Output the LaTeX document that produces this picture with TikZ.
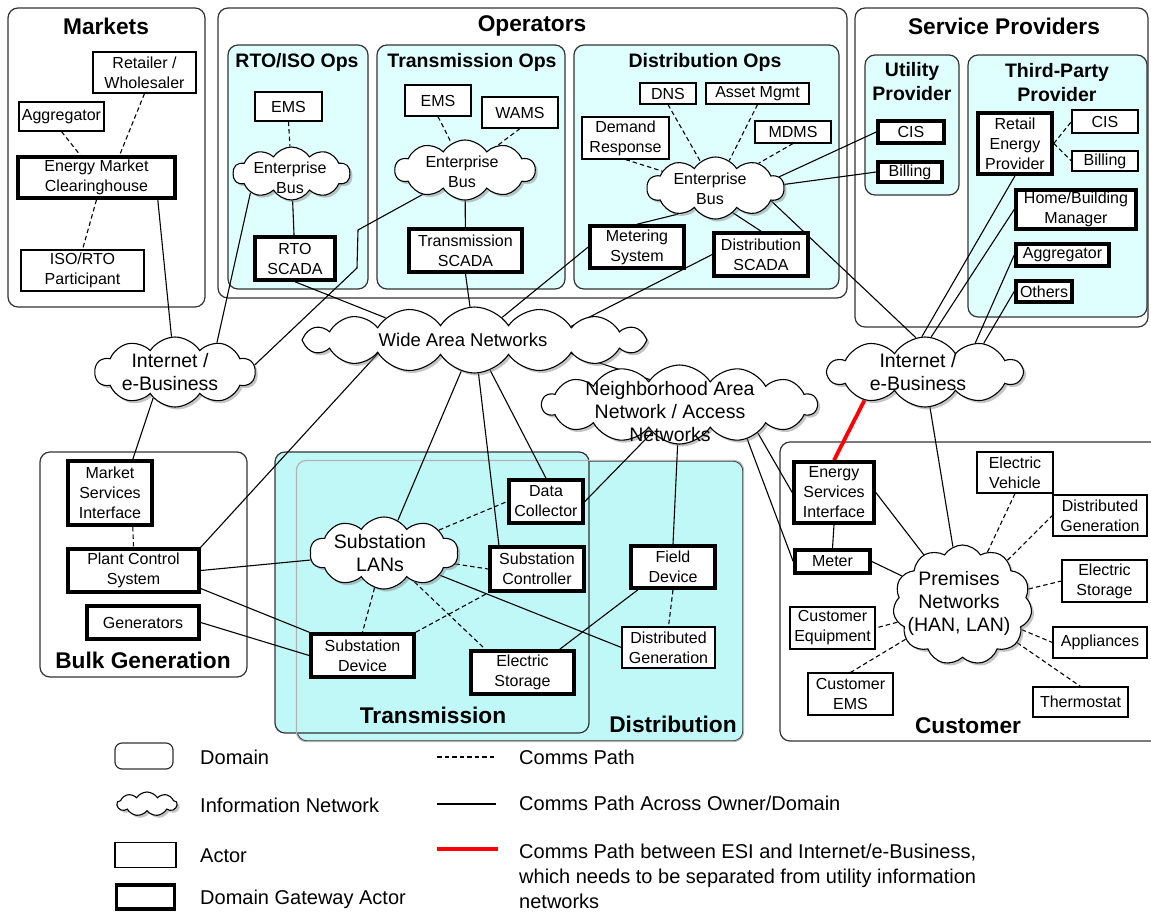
\documentclass[tikz,border=0pt]{standalone}
\usepackage{fontspec}
\setmainfont{Liberation Sans}
\usetikzlibrary{shapes.symbols,shadows,fit}
\definecolor{opscyan}{RGB}{223,255,255}
\definecolor{tdcyan}{RGB}{192,247,247}
\newcommand{\actorfont}{\fontsize{16}{20}\selectfont}
\newcommand{\netfont}{\fontsize{19.5}{23}\selectfont}
\newcommand{\wanfont}{\fontsize{18.5}{22}\selectfont}
\newcommand{\domfont}{\fontsize{22.7}{26}\selectfont\bfseries}
\newcommand{\subdomfont}{\fontsize{19.5}{24}\selectfont\bfseries}
\newcommand{\legfont}{\fontsize{20}{25}\selectfont}
\pgfdeclarelayer{back}
\pgfdeclarelayer{wires}
\pgfsetlayers{back,wires,main}

\begin{document}
\begin{tikzpicture}[
  x=1pt, y=-1pt,
  wh/.style 2 args={minimum width=#1pt, minimum height=#2pt},
  dom/.style={draw=black!80, line width=1.2pt, rounded corners=10pt, inner sep=0pt, fill=white},
  opsdom/.style={dom, fill=opscyan},
  tddom/.style={dom, fill=tdcyan},
  dtitle/.style={font=\domfont, inner sep=0pt},
  stitle/.style={font=\subdomfont, inner sep=0pt, align=center},
  actor/.style={draw, line width=1.1pt, fill=white, align=center, inner sep=0pt, font=\actorfont},
  gate/.style={actor, line width=3.6pt},
  net/.style={cloud, cloud puffs=10, cloud puff arc=115, cloud ignores aspect, draw, line width=1.1pt,
    fill=white, inner sep=0pt, drop shadow={shadow xshift=2.5pt, shadow yshift=-2.5pt, opacity=0.45}},
  ntxt/.style={font=\netfont, align=center, inner sep=0pt},
  btxt/.style={font=\actorfont, align=center, inner sep=0pt},
  link/.style={line width=1.1pt},
  comm/.style={link, dash pattern=on 4.5pt off 3pt},
  esilink/.style={line width=3.8pt, red},
  ltxt/.style={font=\legfont, anchor=west, inner sep=0pt},
]
\useasboundingbox (0,0) rectangle (1151,911);

% domains
\begin{pgfonlayer}{back}
  \fill[white] (0,0) rectangle (1151,911);
  \node[dom, fit={(8,8) (205,307)}] (markets) {};
  \node[dom, fit={(218,8) (847,298)}] (operators) {};
  \node[dom, fit={(855,8) (1148,327)}] (services) {};
  \node[opsdom, fit={(228,45) (368,289)}] (rtoops) {};
  \node[opsdom, fit={(377,45) (565,289)}] (transops) {};
  \node[opsdom, fit={(574,45) (839,289)}] (distops) {};
  \node[opsdom, fit={(865,55) (959,195)}] (utility) {};
  \node[opsdom, fit={(968,55) (1147,317)}] (thirdp) {};
  \node[dom, fit={(40,452) (247,677)}] (bulkgen) {};
  \node[tddom, fit={(297,461) (743,741)}] (distrib) {};
  \node[tddom, fit={(275,452) (589,733)}] (transm) {};
  \draw[black!30, line width=1.2pt, rounded corners=10pt] (distrib.north west) rectangle (distrib.south east);
  \node[dom, fit={(780,442) (1165,741)}] (customer) {};
\end{pgfonlayer}

\node[dtitle] (tmarkets) at (106,26) {Markets};
\node[dtitle] (toper) at (532,26) {Operators};
\node[dtitle] (tserv) at (1004,26) {Service Providers};
\node[stitle] (trto) at (297,62) {RTO/ISO Ops};
\node[stitle] (ttops) at (472,62) {Transmission Ops};
\node[stitle] (tdops) at (705,62) {Distribution Ops};
\node[stitle] (tutil) at (912,82) {Utility\\Provider};
\node[stitle] (tthird) at (1057,83) {Third-Party\\Provider};
\node[dtitle] (tbulk) at (143,660) {Bulk Generation};
\node[dtitle] (ttrans) at (433,715) {Transmission};
\node[dtitle] (tdist) at (673,724) {Distribution};
\node[dtitle] (tcust) at (968,726) {Customer};

% markets
\node[actor, wh={103}{41}] (ret) at (144.5,72.5) {Retailer /\\Wholesaler};
\node[actor, wh={85}{29}] (agg1) at (61.5,116.5) {Aggregator};
\node[gate, wh={157}{41}] (emc) at (96.5,177.5) {Energy Market\\Clearinghouse};
\node[actor, wh={123}{41}] (isop) at (82.5,270.5) {ISO/RTO\\Participant};

% operators
\node[actor, wh={67}{29}] (ems1) at (288.5,106.5) {EMS};
\node[net, wh={117}{53}, label={[btxt, xshift=-1.5pt, yshift=-4.5pt]center:{Enterprise\\Bus}}] (bus1) at (291.5,173.5) {};
\node[gate, wh={80}{43}] (rtoscada) at (295,258.5) {RTO\\SCADA};

\node[actor, wh={66}{31}] (ems2) at (438,100.5) {EMS};
\node[actor, wh={76}{31}] (wams) at (520,112.5) {WAMS};
\node[net, wh={140}{60}, label={[btxt, xshift=-3pt, yshift=-1.5pt]center:{Enterprise\\Bus}}] (bus2) at (465,170) {};
\node[gate, wh={113}{43}] (tscada) at (465.5,250.5) {Transmission\\SCADA};

\node[actor, wh={56}{21}] (dns) at (668,93.5) {DNS};
\node[actor, wh={103}{21}] (asset) at (757.5,93.5) {Asset Mgmt};
\node[actor, wh={87}{42}] (dresp) at (625.5,138) {Demand\\Response};
\node[actor, wh={76}{22}] (mdms) at (793,132) {MDMS};
\node[net, wh={137}{62}, label={[btxt, xshift=-5.5pt, yshift=-1pt]center:{Enterprise\\Bus}}] (bus3) at (715.5,188) {};
\node[gate, wh={94}{42}] (metering) at (637,247) {Metering\\System};
\node[gate, wh={94}{43}] (dscada) at (761,254.5) {Distribution\\SCADA};

% service providers
\node[gate, wh={66}{22}] (ucis) at (911,132) {CIS};
\node[gate, wh={64}{20}] (ubill) at (910,172) {Billing};
\node[gate, wh={74}{61}] (rep) at (1015,143.5) {Retail\\Energy\\Provider};
\node[actor, wh={66}{23}] (tcis) at (1105,121.5) {CIS};
\node[actor, wh={66}{20}] (tbill) at (1105,161) {Billing};
\node[gate, wh={120}{39}] (hbm) at (1076,209.5) {Home/Building\\Manager};
\node[gate, wh={93}{22}] (agg2) at (1062.5,255) {Aggregator};
\node[gate, wh={56}{21}] (others) at (1044,291.5) {Others};

% networks
\node[net, wh={160}{70}, label={[ntxt, xshift=-5pt]center:{Internet /\\e-Business}}] (inet1) at (175,372) {};
\node[net, wh={194}{70}, label={[ntxt, xshift=-7pt]center:{Internet /\\e-Business}}] (inet2) at (925,372) {};
\node[net, wh={345}{66}, cloud puffs=16, label={[ntxt, font=\wanfont, xshift=-11.5pt]center:{Wide Area Networks}}] (wan) at (474.5,340) {};
\node[net, wh={275}{79}, cloud puffs=14, label={[ntxt, xshift=-9.5pt, yshift=-7.5pt]center:{Neighborhood Area\\Network / Access\\Networks}}] (nan) at (679.5,404.5) {};

% bulk generation
\node[gate, wh={84}{64}] (msi) at (110,493) {Market\\Services\\Interface};
\node[gate, wh={131}{43}] (pcs) at (133.5,570.5) {Plant Control\\System};
\node[gate, wh={112}{33}] (gen) at (143,622.5) {Generators};

% transmission and distribution
\node[net, wh={148}{72}, label={[ntxt, xshift=-4pt, yshift=-0.5pt]center:{Substation\\LANs}}] (slan) at (384,553) {};
\node[gate, wh={74}{43}] (dc) at (546,501.5) {Data\\Collector};
\node[gate, wh={94}{44}] (sc) at (537,569) {Substation\\Controller};
\node[gate, wh={103}{43}] (sd) at (362.5,655.5) {Substation\\Device};
\node[gate, wh={103}{43}] (es) at (522.5,672.5) {Electric\\Storage};
\node[gate, wh={84}{42}] (fd) at (673,567) {Field\\Device};
\node[actor, wh={93}{41}] (dg) at (668.5,647.5) {Distributed\\Generation};

% customer
\node[gate, wh={80}{61}] (esi) at (834,492.5) {Energy\\Services\\Interface};
\node[gate, wh={75}{23}] (meter) at (832.5,561.5) {Meter};
\node[net, wh={139}{120}, cloud puffs=11, label={[ntxt, xshift=-3.5pt, yshift=1.5pt]center:{Premises\\Networks\\(HAN, LAN)}}] (prem) at (962.5,605) {};
\node[actor, wh={76}{41}] (ev) at (1015,472.5) {Electric\\Vehicle};
\node[actor, wh={94}{41}] (dg2) at (1100,515.5) {Distributed\\Generation};
\node[actor, wh={85}{42}] (es2) at (1104.5,581) {Electric\\Storage};
\node[actor, wh={85}{42}] (ce) at (832.5,628) {Customer\\Equipment};
\node[actor, wh={94}{31}] (appl) at (1100,642.5) {Appliances};
\node[actor, wh={85}{42}] (cems) at (850.5,694) {Customer\\EMS};
\node[actor, wh={95}{30}] (therm) at (1080.5,702) {Thermostat};

\coordinate (bend1) at (358,230);
\coordinate (bend2) at (357,268);

\begin{pgfonlayer}{wires}
  % paths inside a domain
  \draw[comm] (agg1.south) -- (emc.126);
  \draw[comm] (ret.south) -- (emc.44);
  \draw[comm] (emc.south) -- (isop.north);
  \draw[comm] (ems1.south) -- (bus1);
  \draw[comm] (ems2.south) -- (bus2);
  \draw[comm] (wams.south) -- (bus2);
  \foreach \a in {dns, asset, mdms, dresp} \draw[comm] (\a.south) -- (bus3);
  \draw[comm] (rep.east) -- (tcis.west);
  \draw[comm] (rep.east) -- (tbill.west);
  \draw[comm] (msi.-56) -- (pcs.north);
  \draw[comm] (slan) -- (dc.west);
  \draw[comm] (slan) -- (sc.west);
  \draw[comm] (slan) -- (sd.north);
  \draw[comm] (slan) -- (es.148);
  \draw[comm] (sd.north east) -- (sc.south west);
  \draw[comm] (fd.south) -- (dg.north);
  \draw[comm] (prem) -- (ev.south);
  \foreach \a in {dg2, es2, appl} \draw[comm] (prem) -- (\a.west);
  \draw[comm] (prem) -- (ce.east);
  \draw[comm] (prem) -- (cems.north);
  \draw[comm] (prem) -- (therm.north);

  % paths across owner or domain
  \draw[link] (bus1) -- (rtoscada);
  \draw[link] (bus2) -- (tscada);
  \draw[link] (bus3.-145) -- (metering.north);
  \draw[link] (bus3.-55) -- (dscada.north);
  \draw[link] (emc.-20) -- (inet1);
  \draw[link] (bus1.-155) -- (inet1.35);
  \draw[link] (bus2.-150) -- (bend1) -- (bend2) -- (inet1.5);
  \draw[link] (inet1.-130) -- (msi.56);
  \draw[link] (rtoscada.south) -- (wan.166);
  \draw[link] (tscada.south) -- (wan);
  \draw[link] (metering.west) -- (wan);
  \draw[link] (dscada.west) -- (wan.8);
  \draw[link] (wan.-172) -- (pcs.north east);
  \draw[link] (wan) -- (slan);
  \draw[link] (wan) -- (sc.148);
  \draw[link] (wan) -- (dc.north);
  \draw[link] (wan.-8) -- (nan.140);
  \draw[link] (bus3.10) -- (ucis.west);
  \draw[link] (bus3.3) -- (ubill.west);
  \draw[link] (bus3.-13) -- (inet2.105);
  \draw[link] (rep.south) -- (inet2.95);
  \draw[link] (hbm.west) -- (inet2.80);
  \draw[link] (agg2.west) -- (inet2.30);
  \draw[link] (others.west) -- (inet2.26);
  \draw[link] (nan) -- (dc.east);
  \draw[link] (nan) -- (fd.north);
  \draw[link] (nan.-20) -- (esi.west);
  \draw[link] (nan.-27) -- (meter.west);
  \draw[link] (pcs.east) -- (slan);
  \draw[link] (pcs.-15) -- (sd.north west);
  \draw[link] (gen.east) -- (sd.west);
  \draw[link] (slan) -- (dg.west);
  \draw[link] (fd.-147) -- (es.32);
  \draw[link] (inet2.-82) -- (prem);
  \draw[link] (esi.south) -- (meter.north);
  \draw[link] (esi.east) -- (prem);
  \draw[link] (meter.east) -- (prem);
  % the ESI must stay apart from utility networks
  \draw[esilink] (inet2.-155) -- (esi.north);
\end{pgfonlayer}

% legend
\node[dom, wh={58}{26}, rounded corners=7pt] (lgdom) at (144,756) {};
\node[ltxt] (lgdomt) at (200,757) {Domain};
\node[net, wh={60}{24}, cloud puffs=9] (lgnet) at (147,804) {};
\node[ltxt] (lgnett) at (200,805) {Information Network};
\node[actor, wh={61}{25}] (lgact) at (145.5,855) {};
\node[ltxt] (lgactt) at (200,856) {Actor};
\node[gate, wh={58}{24}] (lggate) at (145.5,897) {};
\node[ltxt] (lggatet) at (200,899) {Domain Gateway Actor};
\coordinate (lga1) at (437,757);
\coordinate (lga2) at (496,757);
\coordinate (lgb1) at (437,804);
\coordinate (lgb2) at (496,804);
\coordinate (lgc1) at (437,849);
\coordinate (lgc2) at (498,849);
\draw[comm] (lga1) -- (lga2);
\draw[link] (lgb1) -- (lgb2);
\draw[esilink] (lgc1) -- (lgc2);
\node[ltxt] (lgcommt) at (519,757) {Comms Path};
\node[ltxt] (lgcrosst) at (519,803) {Comms Path Across Owner/Domain};
\node[ltxt, align=left] (lgesit) at (519,876) {Comms Path between ESI and Internet/e-Business,\\which needs to be separated from utility information\\networks};
\end{tikzpicture}
\end{document}
